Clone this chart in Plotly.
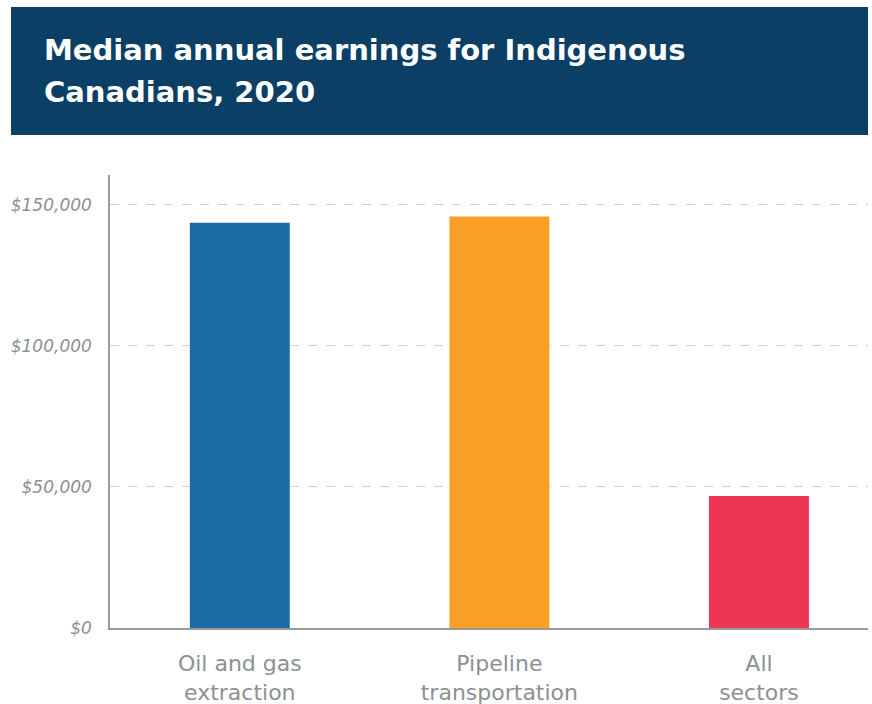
import plotly.graph_objects as go

categories = ["Oil and gas<br>extraction", "Pipeline<br>transportation", "All<br>sectors"]
earnings = [143600, 145800, 46800]
bar_colors = ["#1a6ca3", "#f7a025", "#ee3553"]
tick_vals = [0, 50000, 100000, 150000]
tick_text = ["$0", "$50,000", "$100,000", "$150,000"]
title_lines = ["Median annual earnings for Indigenous", "Canadians, 2020"]

W, H = 872, 704
L, R, T, B = 110, 4, 175, 76
pw, ph = W - L - R, H - T - B

def px_x(x):
    return (x - L) / pw

def px_y(y):
    return (H - B - y) / ph

FONT = "DejaVu Sans"

fig = go.Figure()
fig.add_trace(go.Bar(
    x=list(range(len(categories))), y=earnings,
    marker=dict(color=bar_colors, line=dict(width=0)),
    width=0.385, hoverinfo="skip",
))

fig.add_shape(type="rect", xref="paper", yref="paper",
              x0=px_x(11), x1=px_x(868), y0=px_y(135), y1=px_y(7),
              fillcolor="#0b3f66", line=dict(width=0), layer="below")
for line, yc in zip(title_lines, [50, 92]):
    fig.add_annotation(xref="paper", yref="paper", x=px_x(42), y=px_y(yc),
                       xanchor="left", yanchor="middle", align="left",
                       text=line, showarrow=False,
                       font=dict(family=FONT, size=29, color="white", weight="bold"))

fig.update_layout(
    width=W, height=H, margin=dict(l=L, r=R, t=T, b=B, pad=0, autoexpand=False),
    paper_bgcolor="white", plot_bgcolor="white", showlegend=False,
    font=dict(family=FONT, color="#8c9191"),
    xaxis=dict(tickmode="array", tickvals=list(range(len(categories))), ticktext=categories,
               range=[-0.5, 2.42], showgrid=False, zeroline=False, automargin=False,
               showline=True, linecolor="#9a9a9a", linewidth=1.5,
               ticks="", ticklabelstandoff=15,
               tickfont=dict(family=FONT, size=22, color="#8c9191")),
    yaxis=dict(range=[0, 160500], tickmode="array", tickvals=tick_vals, ticktext=tick_text,
               showgrid=True, gridcolor="#d0d0d0", griddash="dash", gridwidth=1,
               zeroline=False, showline=True, linecolor="#9a9a9a", linewidth=1.5,
               ticks="", ticklabelstandoff=13, automargin=False,
               tickfont=dict(family=FONT, size=17, color="#8c9191", style="italic")),
)

fig.write_html("out.html")
